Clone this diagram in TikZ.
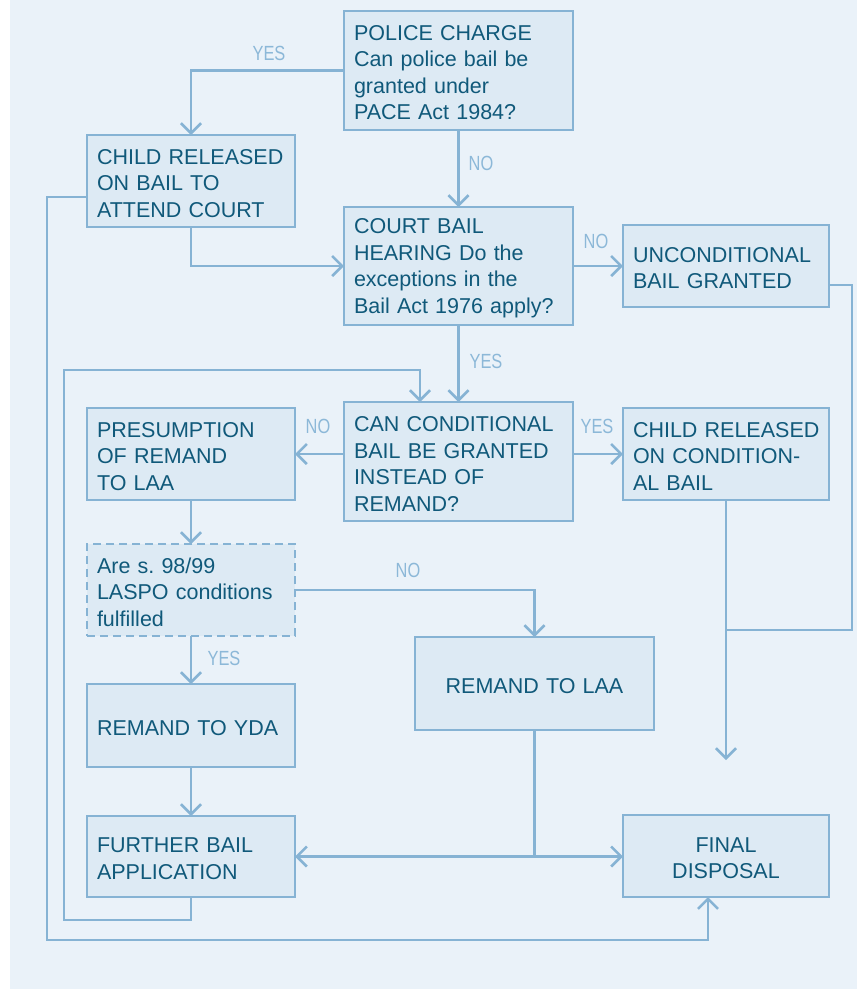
\documentclass[tikz,border=0pt]{standalone}
\usepackage{fontspec}
\setmainfont{Liberation Sans}
\newfontfamily\labfont[FakeStretch=0.8]{Liberation Sans}
\usetikzlibrary{arrows.meta}
\frenchspacing
\definecolor{bgc}{RGB}{234,242,249}
\definecolor{boxfill}{RGB}{221,234,244}
\definecolor{linec}{RGB}{134,179,212}
\definecolor{txtc}{RGB}{16,89,122}
\definecolor{labc}{RGB}{140,184,216}
\tikzset{
  box/.style={draw=linec, fill=boxfill, line width=2.6pt, anchor=north west, outer sep=0pt,
    inner xsep=10pt, inner ysep=4pt, align=left, text=txtc, text height=19.5pt,
    execute at begin node={\hyphenpenalty=10000\exhyphenpenalty=10000},
    font=\fontsize{21.5}{26.5}\selectfont},
  cbox/.style={box, align=center},
  conn/.style={draw=linec, line width=2.6pt},
  arr/.style={conn, -{Straight Barb[length=10pt,width=20pt]}},
  lab/.style={text=labc, font=\labfont\fontsize{20.5}{24}\selectfont, inner sep=0pt},
}
\begin{document}
\begin{tikzpicture}[x=1pt,y=-1pt]
\useasboundingbox (0,0) rectangle (857,989);
\fill[bgc] (10,0) rectangle (857,989);

\node[box, minimum width=229, minimum height=119, text width=209] (police) at (344,11)
  {POLICE CHARGE\\Can police bail be\\granted under\\PACE Act 1984?};
\node[box, minimum width=208, minimum height=92, text width=188] (relbail) at (87,135)
  {\mbox{CHILD RELEASED}\\ON BAIL TO\\ATTEND COURT};
\node[box, minimum width=229, minimum height=118, text width=209] (court) at (344,207)
  {COURT BAIL\\HEARING Do the\\exceptions in the\\Bail Act 1976 apply?};
\node[box, minimum width=206, minimum height=82, text width=186] (uncond) at (623,225)
  {UNCONDITIONAL\\BAIL GRANTED};
\node[box, minimum width=229, minimum height=119, text width=209] (cond) at (344,402)
  {CAN CONDITIONAL\\BAIL BE GRANTED\\INSTEAD OF\\REMAND?};
\node[box, minimum width=208, minimum height=92, text width=188] (presum) at (87,408)
  {PRESUMPTION\\OF REMAND\\TO LAA};
\node[box, minimum width=206, minimum height=92, text width=186] (relcond) at (623,408)
  {\mbox{CHILD RELEASED}\\ON CONDITION-\\AL BAIL};
\node[box, dash pattern=on 8pt off 5pt, minimum width=208, minimum height=92, text width=188] (laspo) at (87,544)
  {Are s.\ 98/99\\LASPO conditions\\fulfilled};
\node[cbox, minimum width=239, minimum height=93, text width=219] (remlaa) at (415,637)
  {REMAND TO LAA};
\node[box, minimum width=208, minimum height=83, text width=188] (yda) at (87,684)
  {REMAND TO YDA};
\node[box, minimum width=208, minimum height=81, text width=188] (further) at (87,816)
  {FURTHER BAIL\\APPLICATION};
\node[cbox, minimum width=206, minimum height=82, text width=186] (final) at (623,815)
  {FINAL\\DISPOSAL};

% helper coordinates
\coordinate (loopA) at (64,920);
\coordinate (loopB) at (420,370);
\coordinate (ur) at (852,285);
\coordinate (rc) at (852,630);
\coordinate (fe) at (726,760);
\coordinate (la) at (47,197);
\coordinate (lb) at (47,940);
\coordinate (lc) at (708,940);

% connectors
\draw[arr] (police.west) -| (relbail.north);
\draw[arr] (police.south) -- (court.north);
\draw[arr] (relbail.south) |- (court.west);
\draw[arr] (court.east) -- (uncond.west);
\draw[arr] (court.south) -- (cond.north);
\draw[arr] (further.south) |- (loopA) |- (loopB) -- (loopB |- cond.north);
\draw[arr] (cond.west |- presum.east) -- (presum.east);
\draw[arr] (cond.east |- relcond.west) -- (relcond.west);
\draw[arr] (presum.south) -- (laspo.north);
\draw[arr] (laspo.east) -| (remlaa.north);
\draw[arr] (laspo.south) -- (yda.north);
\draw[arr] (yda.south) -- (further.north);
\coordinate (j) at (remlaa.south |- further.east);
\draw[conn] (remlaa.south) -- (j);
\draw[arr] (j) -- (further.east);
\draw[arr] (j) -- (final.west |- j);
\draw[arr] (relcond.south) -- (fe);
\draw[conn] (uncond.east |- ur) -- (ur) -- (rc) -- (rc -| relcond.south);
\draw[arr] (relbail.west |- la) -- (la) -- (lb) -- (lc) -- (lc |- final.south);

% labels
\node[lab] (l1) at (269,53) {YES};
\node[lab] (l2) at (481,163) {NO};
\node[lab] (l3) at (596,241) {NO};
\node[lab] (l4) at (486,361) {YES};
\node[lab] (l5) at (318,426) {NO};
\node[lab] (l6) at (597,426) {YES};
\node[lab] (l7) at (408,570) {NO};
\node[lab] (l8) at (224,658) {YES};
\end{tikzpicture}
\end{document}
